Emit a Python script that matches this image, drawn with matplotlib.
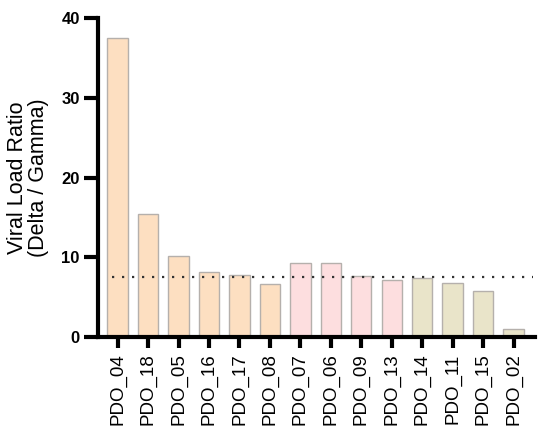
import numpy as np
import matplotlib
matplotlib.use('Agg')
import matplotlib.pyplot as plt

plt.rcParams['font.family'] = ['Liberation Sans', 'DejaVu Sans']

# samples and ratios
samples = ['PDO_04', 'PDO_18', 'PDO_05', 'PDO_16', 'PDO_17', 'PDO_08', 'PDO_07',
           'PDO_06', 'PDO_09', 'PDO_13', 'PDO_14', 'PDO_11', 'PDO_15', 'PDO_02']
ratio = [37.5, 15.4, 10.2, 8.1, 7.8, 6.65, 9.25, 9.25, 7.65, 7.1, 7.45, 6.8, 5.8, 0.95]
group = [0, 0, 0, 0, 0, 0, 1, 1, 1, 1, 2, 2, 2, 2]
threshold = 7.55

group_colors = ['#FDDFC1', '#FDDEDF', '#E9E4C9']
colors = [group_colors[g] for g in group]

fig = plt.figure(figsize=(5.5, 4.33), dpi=100)
ax = fig.add_axes([0.178, 0.222, 0.795, 0.736])

x = np.arange(len(samples))
ax.bar(x, ratio, width=0.67, color=colors, edgecolor='#B5B0AC', linewidth=1.0, zorder=2)
ax.hlines(threshold, -0.2, 13.65, colors='#333333', linestyles=(0, (1, 3.5)),
          linewidth=1.6, zorder=3)

ax.set_xlim(-0.65, 13.71)
ax.set_ylim(0, 40)
ax.set_yticks([0, 10, 20, 30, 40])
ax.set_xticks(x)
ax.set_xticklabels(samples, rotation=90, fontsize=13.5)
for lab in ax.get_yticklabels():
    lab.set_fontweight('bold')
    lab.set_fontsize(12)

ax.spines['top'].set_visible(False)
ax.spines['right'].set_visible(False)
ax.spines['left'].set_linewidth(3)
ax.spines['bottom'].set_linewidth(3)
ax.tick_params(axis='y', length=10, width=3, pad=3)
ax.tick_params(axis='x', length=8, width=3, pad=4)

ax.set_ylabel('Viral Load Ratio\n(Delta / Gamma)', fontsize=15.5, linespacing=1.0)
ax.yaxis.set_label_coords(-0.112, 0.5)

fig.savefig('out.png', dpi=100)
